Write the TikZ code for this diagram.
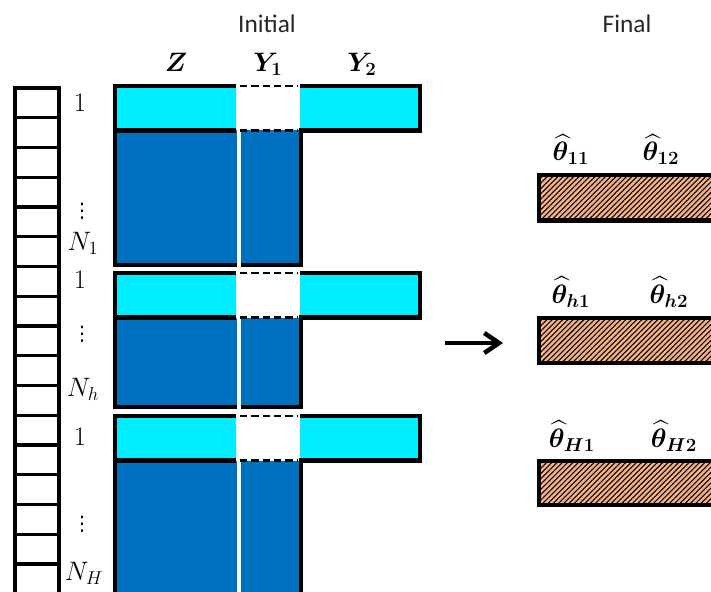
\RequirePackage{fix-cm}
\documentclass[tikz,border=0pt]{standalone}
\usepackage{amsmath,bm}
\usepackage{fontspec}
\newfontfamily\titlefont{Carlito}
\newfontfamily\symfont{DejaVu Sans}
\usetikzlibrary{arrows.meta,patterns.meta}

\definecolor{barcyan}{RGB}{0,238,255}
\definecolor{barblue}{RGB}{0,112,192}
\definecolor{hatchtan}{RGB}{244,177,131}
\definecolor{titlegray}{RGB}{38,38,38}

\tikzset{
  border/.style={line width=3.2pt, line join=miter},
  gapline/.style={line width=1.8pt, dash pattern=on 5.5pt off 3pt},
  cellbox/.style={draw, line width=2.6pt},
  rowlabel/.style={anchor=base, inner sep=0pt, font=\fontsize{20}{24}\selectfont},
  dotlabel/.style={anchor=base, inner sep=0pt, font=\symfont\fontsize{15}{18}\selectfont},
  collabel/.style={anchor=base, inner sep=0pt, font=\fontsize{20}{24}\selectfont},
  thetalabel/.style={anchor=base, inner sep=0pt, font=\fontsize{20}{24}\selectfont},
  titlelabel/.style={anchor=base, inner sep=0pt, text=titlegray, font=\titlefont\fontsize{19}{22}\selectfont},
  hatchbar/.style={preaction={fill=hatchtan}, pattern={Lines[angle=45,distance=2.8pt,line width=0.8pt]}, pattern color=black},
  flowarrow/.style={line width=3.4pt, -{Straight Barb[length=11pt,width=15pt]}}
}

\begin{document}
\begin{tikzpicture}[x=0.75pt,y=-0.75pt]
\clip (0,0) rectangle (711,592);

% column of observation cells
\foreach \i in {0,...,16}
  \draw[cellbox] (15,{88+\i*29.75}) rectangle (59,{88+(\i+1)*29.75});

% three data blocks: header row (cyan) and body (blue)
\foreach \t/\m/\b in {86/130.5/265, 273/317.5/407, 416/460.5/640} {
  \fill[barcyan] (115,\t) rectangle (236,\m);
  \fill[barcyan] (300,\t) rectangle (420,\m);
  \fill[barblue] (115,\m) rectangle (301,\b);
  \draw[border] (236,\t) -- (115,\t) -- (115,\b) -- (237,\b);
  \draw[border] (240,\b) -- (301,\b) -- (301,\m) -- (420,\m) -- (420,\t) -- (300,\t);
  \draw[border] (115,\m) -- (236,\m);
  \fill[white] (236.5,\m-1.5) rectangle (240.5,\b+3);
  \draw[gapline] (240,\t) -- (298,\t);
  \draw[gapline] (240,\m) -- (298,\m);
}

% row labels
\node[rowlabel] (r1a) at (80,112) {$1$};
\node[dotlabel] (r1b) at (82,217) {⋮};
\node[rowlabel] (r1c) at (83,250) {$N_1$};
\node[rowlabel] (r2a) at (80,288) {$1$};
\node[dotlabel] (r2b) at (82,340) {⋮};
\node[rowlabel] (r2c) at (83,396) {$N_h$};
\node[rowlabel] (r3a) at (80,445) {$1$};
\node[dotlabel] (r3b) at (82,530) {⋮};
\node[rowlabel] (r3c) at (84,580) {$N_H$};

% column labels
\node[collabel] (zlab) at (176,72) {$\bm{Z}$};
\node[collabel] (y1lab) at (268,72) {$\bm{Y_1}$};
\node[collabel] (y2lab) at (362,72) {$\bm{Y_2}$};

% titles
\node[titlelabel] (initial) at (267,33) {Initial};
\node[titlelabel] (final) at (627,33) {Final};

% arrow
\coordinate (arrowtail) at (445,343);
\coordinate (arrowtip) at (503,343);
\draw[flowarrow] (arrowtail) -- (arrowtip);

% estimated parameter bars
\foreach \t/\b in {175/220.5, 318/363, 461/505} {
  \path[hatchbar] (539,\t) rectangle (730,\b);
  \draw[border] (730,\t) -- (539,\t) -- (539,\b) -- (730,\b);
}

\node[thetalabel] (t11) at (571,161) {$\bm{\widehat{\theta}_{11}}$};
\node[thetalabel] (t12) at (661,161) {$\bm{\widehat{\theta}_{12}}$};
\node[thetalabel] (th1) at (571,303) {$\bm{\widehat{\theta}_{h1}}$};
\node[thetalabel] (th2) at (669,303) {$\bm{\widehat{\theta}_{h2}}$};
\node[thetalabel] (tH1) at (572,447) {$\bm{\widehat{\theta}_{H1}}$};
\node[thetalabel] (tH2) at (674,447) {$\bm{\widehat{\theta}_{H2}}$};
\end{tikzpicture}
\end{document}
